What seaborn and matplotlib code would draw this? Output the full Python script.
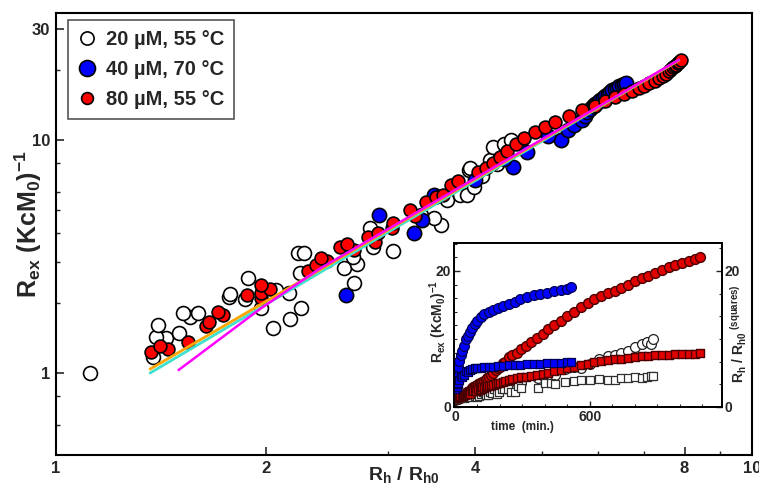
import numpy as np
import pandas as pd
import matplotlib
matplotlib.use("Agg")
import matplotlib.pyplot as plt
import seaborn as sns
from matplotlib.ticker import FixedLocator, FixedFormatter, NullFormatter, MultipleLocator
from matplotlib.lines import Line2D

sns.set_style("ticks")
plt.rcParams['font.family'] = ['Liberation Sans', 'DejaVu Sans']
plt.rcParams['font.weight'] = 'bold'
plt.rcParams['mathtext.fontset'] = 'custom'
plt.rcParams['mathtext.rm'] = 'Liberation Sans:bold'
plt.rcParams['mathtext.bf'] = 'Liberation Sans:bold'
plt.rcParams['mathtext.it'] = 'Liberation Sans:bold'

# ---------------- data ----------------
# 20 uM, 55 C  (white)
w_time = [0, 15, 30, 40, 50, 60, 70, 80, 90, 100, 108, 116, 124, 132, 140, 148, 156, 165, 175, 185,
          196, 208, 220, 235, 250, 265, 280, 295, 370, 400, 425, 445, 490, 530, 560, 600, 640, 680,
          710, 740, 770, 800, 830, 855, 870, 881]
w_rex = [1.00, 1.17, 1.41, 1.43, 1.48, 1.56, 1.61, 1.71, 1.74, 1.81, 1.81, 1.90, 1.90, 2.08, 2.12, 2.18,
         2.20, 2.27, 2.43, 2.56, 2.69, 2.82, 2.94, 3.15, 3.27, 3.27, 3.34, 3.47, 4.19, 4.32, 4.63, 4.77,
         5.53, 5.81, 5.80, 6.29, 7.00, 7.43, 7.59, 7.90, 8.20, 8.80, 9.33, 9.60, 9.20, 10.0]
w_rh = [1.12, 1.38, 1.44, 1.39, 1.50, 2.05, 1.40, 2.17, 1.56, 1.52, 1.60, 1.97, 2.25, 1.87, 1.77, 1.78,
        2.16, 2.07, 2.68, 1.89, 2.24, 2.59, 2.71, 2.67, 2.23, 2.27, 3.05, 2.85, 2.83, 3.57, 3.49, 3.34,
        3.65, 3.81, 3.90, 3.98, 4.10, 3.92, 3.94, 4.30, 4.20, 4.35, 4.25, 4.40, 4.60, 4.50]

# 40 uM, 70 C  (blue)
b_time = [2, 6, 9, 12, 15, 20, 26, 33, 40, 48, 56, 65, 75, 88, 100, 115, 130, 150, 170, 190, 215, 240,
          265, 290, 320, 350, 380, 410, 440, 470, 500, 515]
b_rex = [2.16, 3.99, 4.77, 4.54, 5.81, 6.74, 7.66, 8.30, 8.90, 10.0, 10.4, 11.0, 11.6, 12.2, 12.7, 13.2,
         13.6, 14.0, 14.3, 14.6, 14.9, 15.2, 15.5, 15.8, 16.1, 16.4, 16.6, 16.8, 17.0, 17.2, 17.4, 17.6]
b_rh = [2.61, 3.27, 2.91, 3.36, 3.49, 4.00, 4.53, 4.40, 4.75, 5.31, 5.10, 5.44, 5.55, 5.70, 5.75, 5.80,
        5.85, 5.90, 5.95, 6.00, 6.05, 6.10, 6.15, 6.20, 6.25, 6.30, 6.35, 6.40, 6.45, 6.50, 6.55, 6.60]

# 80 uM, 55 C  (red)
r_time = [5, 12, 18, 24, 30, 35, 40, 45, 50, 55, 60, 64, 68, 75, 82, 88, 94, 102, 110, 116, 122, 130,
          137, 144, 150, 160, 170, 182, 192, 200, 212, 222, 240,
          255, 275, 295, 315, 340, 365, 390, 415, 440, 470, 500, 530, 560, 590, 620, 650, 680, 710,
          740, 770, 800, 830, 860, 890, 920, 950, 980, 1010, 1040, 1065, 1089]
r_rex = [1.23, 1.27, 1.31, 1.36, 1.59, 1.66, 1.77, 1.83, 2.10, 2.16, 2.20, 2.29, 2.39, 2.74, 2.91, 3.02,
         3.12, 3.37, 3.47, 3.58, 3.65, 3.83, 3.99, 4.19, 4.40, 4.72, 5.01, 5.42, 5.69, 5.81, 6.41, 6.67,
         7.29,
         7.6, 8.0, 8.5, 9.0, 9.6, 10.2, 10.8, 11.4, 12.0, 12.7, 13.4, 14.0, 14.7, 15.3, 15.8, 16.3,
         16.7, 17.1, 17.5, 18.0, 18.5, 18.9, 19.3, 19.7, 20.1, 20.5, 20.8, 21.1, 21.4, 21.7, 22.0]
r_rh = [1.37, 1.45, 1.41, 1.55, 1.64, 1.66, 1.74, 1.71, 1.97, 1.88, 1.97, 2.03, 1.97, 2.30, 2.36, 2.45,
        2.40, 2.68, 2.56, 2.62, 2.87, 2.81, 2.90, 3.04, 3.05, 3.28, 3.23, 3.40, 3.51, 3.60, 3.69, 3.78,
        4.04,
        4.15, 4.25, 4.35, 4.45, 4.58, 4.70, 4.88, 5.05, 5.22, 5.45, 5.70, 5.95, 6.15, 6.35, 6.55, 6.72,
        6.88, 7.00, 7.12, 7.25, 7.36, 7.45, 7.53, 7.60, 7.65, 7.70, 7.74, 7.78, 7.82, 7.86, 7.90]

# fit curves (Rh/Rh0, Rex)
fit_cyan_x = [1.365, 7.85]
fit_cyan_y = [1.00, 22.0]
fit_orange_x = [1.365, 7.85]
fit_orange_y = [1.04, 22.0]
fit_magenta_x = [1.50, 1.62, 1.75, 1.97, 2.2, 2.4, 3.0, 4.0, 5.0, 6.5, 7.85]
fit_magenta_y = [1.03, 1.224, 1.455, 1.896, 2.37, 2.82, 4.15, 6.85, 10.1, 15.9, 22.1]

labels = ["20 \u00b5M, 55 \u00b0C", "40 \u00b5M, 70 \u00b0C", "80 \u00b5M, 55 \u00b0C"]

# ---------------- figure ----------------
fig = plt.figure(figsize=(7.59, 4.84), dpi=100)
ax = fig.add_axes([56/759, 29/484, 696/759, 442/484])
ax.set_xscale('log')
ax.set_yscale('log')

sns.scatterplot(x=w_rh, y=w_rex, ax=ax, s=100, color='white', edgecolor='black',
                linewidth=1.2, legend=False, zorder=3)
sns.scatterplot(x=b_rh, y=b_rex, ax=ax, s=105, color='#0000ff', edgecolor='black',
                linewidth=1.2, legend=False, zorder=3)
sns.scatterplot(x=r_rh, y=r_rex, ax=ax, s=85, color='#ff0000', edgecolor='black',
                linewidth=1.2, legend=False, zorder=3)

sns.lineplot(x=fit_cyan_x, y=fit_cyan_y, ax=ax, color='#40e0d0', lw=2, estimator=None, sort=False, zorder=4)
sns.lineplot(x=fit_orange_x, y=fit_orange_y, ax=ax, color='#ffa500', lw=2, estimator=None, sort=False, zorder=4)
sns.lineplot(x=fit_magenta_x, y=fit_magenta_y, ax=ax, color='#ff00ff', lw=1.8, estimator=None, sort=False, zorder=4)

ax.set_xlim(1, 10)
ax.set_ylim(0.445, 35.1)
ax.xaxis.set_major_locator(FixedLocator([1, 2, 4, 8, 10]))
ax.xaxis.set_major_formatter(FixedFormatter(['1', '2', '4', '8', '10']))
ax.xaxis.set_minor_locator(FixedLocator([3, 5, 6, 7, 9]))
ax.xaxis.set_minor_formatter(NullFormatter())
ax.yaxis.set_major_locator(FixedLocator([1, 10, 30]))
ax.yaxis.set_major_formatter(FixedFormatter(['1', '10', '30']))
ax.yaxis.set_minor_locator(FixedLocator([0.6, 0.8, 2, 3, 4, 5, 6, 8, 20]))
ax.yaxis.set_minor_formatter(NullFormatter())
ax.tick_params(which='major', direction='in', length=6, width=1.2, labelsize=12, pad=4)
ax.tick_params(which='minor', direction='in', length=3, width=1.0)
for sp in ax.spines.values():
    sp.set_linewidth(1.5)
    sp.set_color('black')

ax.set_xlabel(r'$\mathbf{R_h\ /\ R_{h0}}$', fontsize=14)
ax.set_ylabel(r'$\mathbf{R_{ex}\ (KcM_0)^{-1}}$', fontsize=18)
ax.xaxis.set_label_coords(0.5, -0.022)
ax.yaxis.set_label_coords(-0.017, 0.522)

handles = [
    Line2D([], [], marker='o', ls='none', markersize=9.5, markerfacecolor='white', markeredgecolor='black', markeredgewidth=1.2),
    Line2D([], [], marker='o', ls='none', markersize=11.5, markerfacecolor='#0000ff', markeredgecolor='black', markeredgewidth=1.2),
    Line2D([], [], marker='o', ls='none', markersize=8.5, markerfacecolor='#ff0000', markeredgecolor='black', markeredgewidth=1.2),
]
leg = ax.legend(handles, labels, loc='upper left', bbox_to_anchor=(0.017, 0.984), borderaxespad=0,
                fontsize=14.5, frameon=True, fancybox=False, edgecolor='#555555', framealpha=1,
                handlelength=0.9, handletextpad=0.5, labelspacing=0.55, borderpad=0.5)
leg.get_frame().set_linewidth(1.2)
for t in leg.get_texts():
    t.set_fontweight('bold')

# ---------------- inset ----------------
ax2 = fig.add_axes([454/759, 77/484, 268/759, 164/484])
ax3 = ax2.twinx()

sns.scatterplot(x=w_time, y=w_rex, ax=ax2, s=50, color='white', edgecolor='#202020', linewidth=0.9, legend=False)
sns.scatterplot(x=r_time, y=r_rex, ax=ax2, s=50, color='#e00000', edgecolor='#4a0000', linewidth=1.0, legend=False)
sns.scatterplot(x=b_time, y=b_rex, ax=ax2, s=50, color='#0000ff', edgecolor='#000050', linewidth=0.9, legend=False)
sns.scatterplot(x=w_time, y=w_rh, ax=ax3, s=38, marker='s', color='white', edgecolor='#303030', linewidth=0.9, legend=False)
sns.scatterplot(x=r_time, y=r_rh, ax=ax3, s=38, marker='s', color='#e00000', edgecolor='#4a0000', linewidth=1.0, legend=False)
sns.scatterplot(x=b_time, y=b_rh, ax=ax3, s=38, marker='s', color='#0000ff', edgecolor='#000050', linewidth=0.9, legend=False)

ax2.set_xlim(-4, 1187)
ax2.set_ylim(0, 24.1)
ax3.set_ylim(0, 24.1)
ax2.xaxis.set_major_locator(FixedLocator([0, 600]))
ax2.xaxis.set_minor_locator(MultipleLocator(100))
ax2.yaxis.set_major_locator(FixedLocator([0, 20]))
ax2.yaxis.set_minor_locator(MultipleLocator(2))
ax3.yaxis.set_major_locator(FixedLocator([0, 20]))
ax3.yaxis.set_minor_locator(FixedLocator([10/3, 20/3, 10, 40/3, 50/3, 70/3]))
for a in (ax2, ax3):
    a.tick_params(which='major', direction='in', length=4, width=1.0, labelsize=10, pad=2)
    a.tick_params(which='minor', direction='in', length=2, width=0.8)
    for sp in a.spines.values():
        sp.set_linewidth(1.3)
        sp.set_color('black')

ax2.set_xlabel('time  (min.)', fontsize=8.5, fontweight='bold')
ax2.xaxis.set_label_coords(0.257, -0.085)
ax2.set_ylabel(r'$\mathbf{R_{ex}\ (KcM_0)^{-1}}$', fontsize=10)
ax2.yaxis.set_label_coords(-0.019, 0.524)
ax3.set_ylabel(r'$\mathbf{R_h\ /\ R_{h0}}^{\mathbf{\ (squares)}}$', fontsize=10)
ax3.yaxis.set_label_coords(1.026, 0.45)

fig.savefig('out.png', dpi=100, facecolor='white')
